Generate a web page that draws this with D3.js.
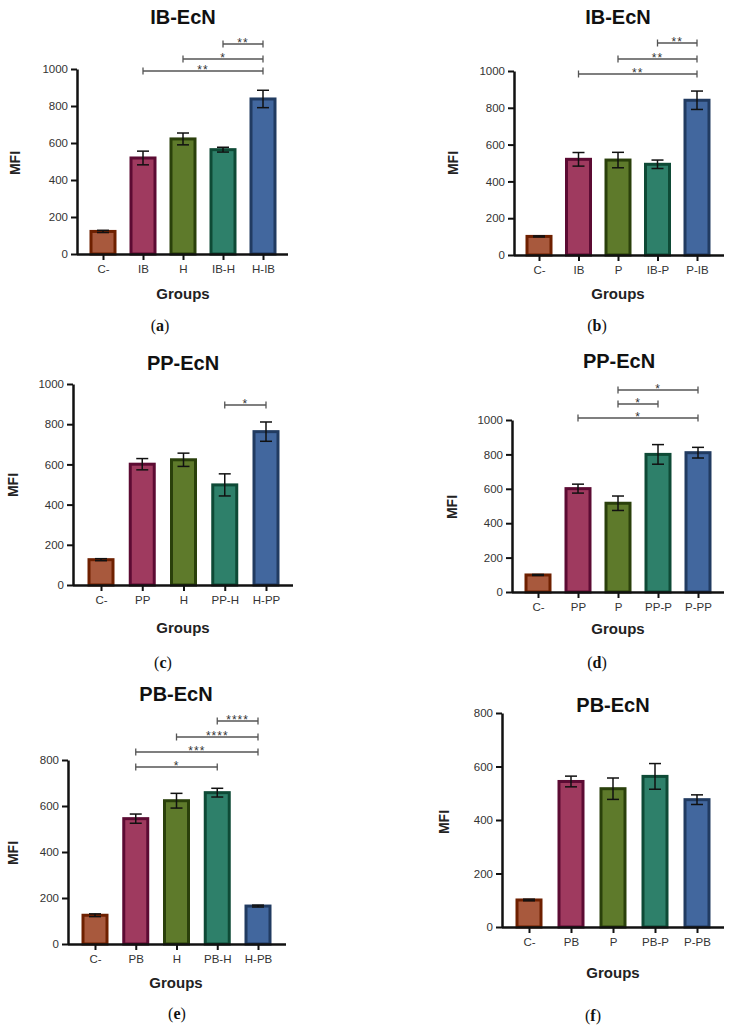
<!DOCTYPE html>
<html><head><meta charset="utf-8">
<script src="https://cdn.jsdelivr.net/npm/d3@7"></script>
<style>body{margin:0;background:#fff}svg{display:block}</style>
</head><body>
<svg id="c" width="733" height="1029"></svg>
<script>
// ---------- data ----------
const catsA = ["C-", "IB", "H", "IB-H", "H-IB"];
const meanA = [122, 519, 622, 564, 838];
const errA  = [6, 37, 32, 13, 47];
const sigA  = [["IB-H","H-IB","**"],["H","H-IB","*"],["IB","H-IB","**"]];

const catsB = ["C-", "IB", "P", "IB-P", "P-IB"];
const meanB = [101, 520, 516, 493, 841];
const errB  = [3, 37, 42, 23, 50];
const sigB  = [["IB-P","P-IB","**"],["P","P-IB","**"],["IB","P-IB","**"]];

const catsC = ["C-", "PP", "H", "PP-H", "H-PP"];
const meanC = [126, 601, 623, 498, 763];
const errC  = [5, 28, 33, 55, 48];
const sigC  = [["PP-H","H-PP","*"]];

const catsD = ["C-", "PP", "P", "PP-P", "P-PP"];
const meanD = [99, 601, 516, 800, 810];
const errD  = [3, 26, 42, 57, 31];
const sigD  = [["P","P-PP","*"],["P","PP-P","*"],["PP","P-PP","*"]];

const catsE = ["C-", "PB", "H", "PB-H", "H-PB"];
const meanE = [125, 545, 623, 658, 165];
const errE  = [6, 20, 32, 19, 4];
const sigE  = [["PB-H","H-PB","****"],["H","H-PB","****"],["PB","H-PB","***"],["PB","PB-H","*"]];

const catsF = ["C-", "PB", "P", "PB-P", "P-PB"];
const meanF = [101, 544, 517, 563, 476];
const errF  = [3, 20, 40, 48, 18];
const sigF  = [];

const ticks1000 = [0, 200, 400, 600, 800, 1000];
const ticks800  = [0, 200, 400, 600, 800];

const titles   = ["IB-EcN", "IB-EcN", "PP-EcN", "PP-EcN", "PB-EcN", "PB-EcN"];
const captions = ["(a)", "(b)", "(c)", "(d)", "(e)", "(f)"];
const xTitle = "Groups", yTitle = "MFI";

const fills   = ["#a8593d", "#9f3a5f", "#5e7a2b", "#2e806a", "#42679e"];
const strokes = ["#6e2000", "#5c0b33", "#2a400b", "#0e4a36", "#213b61"];

// ---------- layout ----------
const layouts = [
  {ax:77,  y0:254, yTop:69,  x0:103, x1:263, xEnd:288, t:[183,17],  m:[15,163],  g:[183,293], cap:[160,325], sigY:[44,59,71]},
  {ax:514, y0:255, yTop:71,  x0:539, x1:697, xEnd:724, t:[618,17],  m:[453,163], g:[618,293], cap:[597,325], sigY:[43,59,74]},
  {ax:73,  y0:585, yTop:384, x0:101, x1:266, xEnd:293, t:[183,363], m:[13,485],  g:[183,627], cap:[163,662], sigY:[405]},
  {ax:512, y0:592, yTop:420, x0:538, x1:698, xEnd:724, t:[619,361], m:[452,507], g:[618,628], cap:[597,662], sigY:[390,404,418]},
  {ax:68,  y0:944, yTop:760, x0:95,  x1:258, xEnd:286, t:[176,694], m:[13,853],  g:[176,982], cap:[177,1013], sigY:[721,737,752,767]},
  {ax:502, y0:927, yTop:713, x0:529, x1:697, xEnd:724, t:[613,705], m:[444,822], g:[613,972], cap:[593,1015], sigY:[]}
];
const panels = [
  [catsA, meanA, errA, sigA, ticks1000],
  [catsB, meanB, errB, sigB, ticks1000],
  [catsC, meanC, errC, sigC, ticks1000],
  [catsD, meanD, errD, sigD, ticks1000],
  [catsE, meanE, errE, sigE, ticks800],
  [catsF, meanF, errF, sigF, ticks800]
];

const svg = d3.select("#c");
const FONT = "'Liberation Sans', Arial, Helvetica, sans-serif";
const barW = 24;

panels.forEach(([cats, mean, err, sig, ticks], pi) => {
  const L = layouts[pi];
  const g = svg.append("g");
  const y = d3.scaleLinear().domain([0, d3.max(ticks)]).range([L.y0, L.yTop]);
  const x = d3.scalePoint().domain(cats).range([L.x0, L.x1]);

  // bars
  g.selectAll("rect.bar").data(cats).join("rect")
    .attr("x", d => x(d) - barW / 2)
    .attr("y", (d, i) => y(mean[i]))
    .attr("width", barW)
    .attr("height", (d, i) => L.y0 - y(mean[i]))
    .attr("fill", (d, i) => fills[i])
    .attr("stroke", (d, i) => strokes[i])
    .attr("stroke-width", 3);

  // error bars
  const eb = g.append("g").attr("stroke", "#111").attr("stroke-width", 1.5);
  cats.forEach((c, i) => {
    const cx = x(c), hi = y(mean[i] + err[i]), lo = y(mean[i] - err[i]);
    eb.append("line").attr("x1", cx).attr("x2", cx).attr("y1", hi).attr("y2", lo);
    eb.append("line").attr("x1", cx - 6).attr("x2", cx + 6).attr("y1", hi).attr("y2", hi);
    eb.append("line").attr("x1", cx - 6).attr("x2", cx + 6).attr("y1", lo).attr("y2", lo);
  });

  // y axis
  const ya = g.append("g").attr("transform", `translate(${L.ax},0)`)
    .call(d3.axisLeft(y).tickValues(ticks).tickFormat(d3.format("d"))
      .tickSize(6).tickPadding(3).tickSizeOuter(0));
  ya.select(".domain").attr("stroke", "#111").attr("stroke-width", 2.5);
  ya.selectAll(".tick line").attr("stroke", "#111").attr("stroke-width", 2);
  ya.selectAll("text").attr("font-family", FONT).attr("font-size", 11.5).attr("fill", "#333");

  // x axis
  const xa = g.append("g").attr("transform", `translate(0,${L.y0})`)
    .call(d3.axisBottom(x).tickSize(6).tickPadding(5).tickSizeOuter(0));
  xa.select(".domain").attr("d", `M${L.ax},0.5H${L.xEnd}`).attr("stroke", "#111").attr("stroke-width", 2.5);
  xa.selectAll(".tick line").attr("stroke", "#111").attr("stroke-width", 2);
  xa.selectAll("text").attr("font-family", FONT).attr("font-size", 11.5).attr("fill", "#333");

  // significance brackets
  sig.forEach(([a, b, s], k) => {
    const yy = L.sigY[k], xa1 = x(a), xb1 = x(b);
    const bg = g.append("g").attr("stroke", "#555").attr("stroke-width", 1.3);
    bg.append("line").attr("x1", xa1).attr("x2", xb1).attr("y1", yy).attr("y2", yy);
    bg.append("line").attr("x1", xa1).attr("x2", xa1).attr("y1", yy - 3.5).attr("y2", yy + 3.5);
    bg.append("line").attr("x1", xb1).attr("x2", xb1).attr("y1", yy - 3.5).attr("y2", yy + 3.5);
    g.append("text").attr("x", (xa1 + xb1) / 2).attr("y", yy + 3)
      .attr("text-anchor", "middle").attr("font-family", FONT).attr("font-size", 12)
      .attr("letter-spacing", 1).attr("fill", "#333").text(s);
  });

  // titles
  g.append("text").attr("x", L.t[0]).attr("y", L.t[1]).attr("dominant-baseline", "central")
    .attr("text-anchor", "middle").attr("font-family", FONT).attr("font-weight", "bold")
    .attr("font-size", 20).attr("fill", "#111").text(titles[pi]);
  g.append("text").attr("transform", `translate(${L.m[0]},${L.m[1]}) rotate(-90)`)
    .attr("dominant-baseline", "central").attr("text-anchor", "middle").attr("font-family", FONT)
    .attr("font-weight", "bold").attr("font-size", 14).attr("fill", "#222").text(yTitle);
  g.append("text").attr("x", L.g[0]).attr("y", L.g[1]).attr("dominant-baseline", "central")
    .attr("text-anchor", "middle").attr("font-family", FONT).attr("font-weight", "bold")
    .attr("font-size", 15).attr("fill", "#222").text(xTitle);
  g.append("text").attr("x", L.cap[0]).attr("y", L.cap[1]).attr("dominant-baseline", "central")
    .attr("text-anchor", "middle").attr("font-family", "'Liberation Serif', serif")
    .attr("font-size", 16).attr("fill", "#111")
    .html(captions[pi].replace(/\((\w)\)/, "(<tspan font-weight='bold'>$1</tspan>)"));
});
</script>
</body></html>
